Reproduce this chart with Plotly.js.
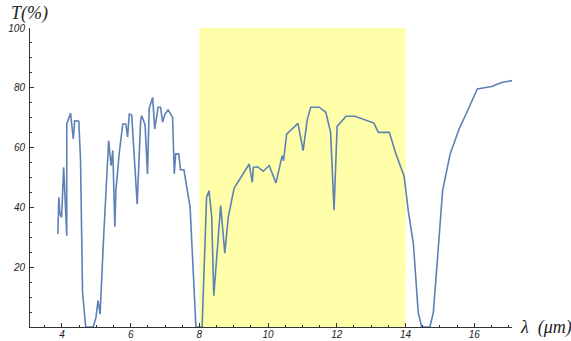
<!DOCTYPE html>
<html><head><meta charset="utf-8">
<script src="https://cdn.plot.ly/plotly-3.0.1.min.js"></script>
<style>html,body{margin:0;padding:0;background:#fff}#chart{width:571px;height:341px}</style>
</head><body><div id="chart"></div>
<script>
// wavelength (µm)
const lambda = [3.88,3.91,3.94,3.99,4.05,4.14,4.14,4.25,4.33,4.37,4.49,4.54,4.60,4.69,4.91,4.99,5.05,5.11,5.22,5.36,5.43,5.48,5.54,5.57,5.67,5.77,5.86,5.91,5.96,6.03,6.19,6.29,6.32,6.42,6.49,6.54,6.64,6.70,6.80,6.87,6.93,7.00,7.09,7.22,7.27,7.31,7.40,7.45,7.55,7.66,7.73,7.90,8.08,8.21,8.28,8.36,8.42,8.62,8.74,8.84,9.01,9.45,9.54,9.57,9.69,9.86,10.03,10.23,10.41,10.45,10.47,10.54,10.87,11.02,11.14,11.24,11.49,11.68,11.82,11.92,12.01,12.27,12.53,13.08,13.21,13.53,13.72,13.96,14.08,14.23,14.37,14.47,14.71,14.81,14.93,15.08,15.30,15.56,15.83,16.09,16.51,16.80,17.11];
// transmittance (%)
const T = [31.1,43.4,37.8,36.7,53.4,30.5,67.9,71.5,62.9,69.0,68.8,56.2,11.6,0,0,3.2,8.8,4.3,31.7,62.3,54.0,59.0,33.5,45.6,58.4,67.9,67.9,63.6,71.2,70.9,41.1,69.0,70.7,67.6,51.2,73.1,76.8,66.2,73.5,73.5,68.5,71.2,72.6,70.1,51.2,57.9,57.9,52.6,52.6,45.0,40.1,0,0,43.4,45.6,36.7,10.5,40.6,24.7,36.7,46.4,54.5,48.4,53.4,53.6,52.1,54.0,48.2,57.3,55.6,58.0,64.5,68.1,59.0,69.3,73.5,73.5,71.8,65.1,39.1,67.1,70.5,70.5,68.2,65.1,65.1,57.9,50.4,38.9,27.8,4.9,0,0,4.9,22.7,45.6,57.9,66.2,72.9,79.6,80.4,81.8,82.4];
const xTicks = [4,6,8,10,12,14,16];
const yTicks = [20,40,60,80,100];
const band = [8,14];

const trace = {x: lambda, y: T, type:'scatter', mode:'lines',
  line:{color:'#5e81b5', width:1.6}, cliponaxis:true, hoverinfo:'none'};

const tickFont = {family:'Liberation Sans, Arial, sans-serif', size:10, color:'#222', style:'italic'};
const labelFont = {family:'Liberation Serif, Times New Roman, serif', size:18, color:'#222', style:'italic'};
const layout = {
  width:571, height:341,
  margin:{l:30, r:59, t:28, b:14, pad:0},
  paper_bgcolor:'#fff', plot_bgcolor:'rgba(0,0,0,0)',
  showlegend:false,
  xaxis:{range:[3.07,17.1], tickvals:xTicks, ticktext:xTicks.map(String),
    ticks:'inside', ticklen:4, tickcolor:'#333', tickwidth:1,
    minor:{dtick:0.5, tick0:0, ticks:'inside', ticklen:2, tickcolor:'#333', showgrid:false},
    showline:true, linecolor:'#333', linewidth:1, showgrid:false, zeroline:false,
    tickfont:tickFont, ticklabelstandoff:-2},
  yaxis:{range:[0,100], tickvals:yTicks, ticktext:yTicks.map(String),
    ticks:'inside', ticklen:4, tickcolor:'#333', tickwidth:1,
    minor:{dtick:5, tick0:0, ticks:'inside', ticklen:2, tickcolor:'#333', showgrid:false},
    showline:true, linecolor:'#333', linewidth:1, showgrid:false, zeroline:false,
    tickfont:tickFont, ticklabelstandoff:2},
  shapes:[{type:'rect', xref:'x', yref:'y', x0:band[0], x1:band[1], y0:0, y1:100,
    fillcolor:'#ffffaa', line:{width:0}, layer:'below'}],
  annotations:[
    {text:'T(%)', xref:'paper', yref:'paper', x:0, y:1.0, xshift:-21, yshift:2,
     xanchor:'left', yanchor:'bottom', showarrow:false, font:labelFont},
    {text:'λ  (μm)', xref:'paper', yref:'paper', x:1.0, y:0, xshift:6, yshift:0,
     xanchor:'left', yanchor:'middle', showarrow:false, font:labelFont}
  ]
};
Plotly.newPlot('chart',[trace],layout,{staticPlot:true, displayModeBar:false});
</script></body></html>
